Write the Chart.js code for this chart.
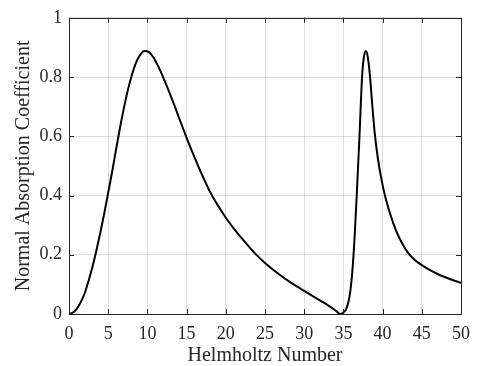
<!DOCTYPE html>
<html>
<head>
<meta charset="utf-8">
<script src="https://cdn.jsdelivr.net/npm/chart.js@4/dist/chart.umd.min.js"></script>
<style>
    html, body { margin: 0; padding: 0; background: #fff; }
    #wrap { width: 479px; height: 366px; }
</style>
</head>
<body>
<div id="wrap"><canvas id="myChart"></canvas></div>
<script>
// Helmholtz number (x) and absorption coefficient (y)
const helmholtz = [0, 0.5, 1, 1.5, 2, 2.5, 3, 3.5, 4, 4.5, 5, 5.5, 6, 6.5, 7, 7.5, 8, 8.5, 9, 9.6,
    10.2, 10.8, 11.4, 12, 13, 14, 15, 16, 17, 18, 19, 20, 21, 22, 23, 24, 25, 26, 27, 28, 29, 30,
    31, 32, 33, 34, 34.6, 35, 35.3, 35.6, 35.9, 36.2, 36.45, 36.7, 37.05, 37.38, 37.6, 37.85,
    38.1, 38.4, 38.7, 39, 39.4, 39.8, 40.3, 41, 41.7, 42.4, 43.2, 44, 45, 46, 47, 48, 49, 50];
const absorption = [0, 0.005, 0.018, 0.04, 0.07, 0.112, 0.16, 0.215, 0.275, 0.34, 0.41, 0.48, 0.555, 0.628, 0.695, 0.755, 0.805, 0.845, 0.872, 0.888,
    0.884, 0.865, 0.835, 0.8, 0.735, 0.665, 0.595, 0.53, 0.468, 0.412, 0.366, 0.325, 0.289, 0.257, 0.226, 0.197, 0.172, 0.15, 0.13, 0.111, 0.094, 0.078,
    0.062, 0.046, 0.03, 0.012, 0, 0.005, 0.014, 0.036, 0.08, 0.165, 0.27, 0.4, 0.6, 0.8, 0.865, 0.888,
    0.87, 0.8, 0.7, 0.61, 0.525, 0.462, 0.4, 0.335, 0.282, 0.243, 0.208, 0.185, 0.165, 0.149, 0.135, 0.124, 0.114, 0.105];

const xTicks = [0, 5, 10, 15, 20, 25, 30, 35, 40, 45, 50];
const yTicks = [0, 0.2, 0.4, 0.6, 0.8, 1];
const yTickLabels = ['0', '0.2', '0.4', '0.6', '0.8', '1'];

const axisColor = '#262626';
const gridColor = 'rgba(38,38,38,0.15)';
const serif = '"Liberation Serif", "Times New Roman", serif';

const points = helmholtz.map((x, i) => ({x: x, y: absorption[i]}));

// box around the plot with MATLAB-like inward ticks on all four sides
const boxPlugin = {
    id: 'box',
    afterDatasetsDraw(chart) {
        const {ctx, chartArea: a, scales} = chart;
        const len = 5;
        ctx.save();
        ctx.strokeStyle = axisColor;
        ctx.lineWidth = 1;
        ctx.beginPath();
        for (let v of xTicks) {
            const px = Math.round(scales.x.getPixelForValue(v)) + 0.5;
            ctx.moveTo(px, a.bottom); ctx.lineTo(px, a.bottom - len);
            ctx.moveTo(px, a.top); ctx.lineTo(px, a.top + len);
        }
        for (let v of yTicks) {
            const py = Math.round(scales.y.getPixelForValue(v)) + 0.5;
            ctx.moveTo(a.left, py); ctx.lineTo(a.left + len, py);
            ctx.moveTo(a.right, py); ctx.lineTo(a.right - len, py);
        }
        ctx.stroke();
        ctx.strokeRect(Math.round(a.left) + 0.5, Math.round(a.top) + 0.5,
            Math.round(a.right - a.left), Math.round(a.bottom - a.top));
        ctx.restore();
    }
};

const ctx = document.getElementById('myChart').getContext('2d');
const chart = new Chart(ctx, {
    type: 'line',
    data: {
        datasets: [{
            data: points,
            borderColor: '#000',
            borderWidth: 2,
            pointRadius: 0,
            fill: false,
            cubicInterpolationMode: 'monotone'
        }]
    },
    options: {
        responsive: true,
        maintainAspectRatio: false,
        animation: false,
        layout: { padding: { left: 0, top: 14, right: 16, bottom: 0 } },
        plugins: {
            legend: { display: false },
            tooltip: { enabled: false }
        },
        scales: {
            x: {
                type: 'linear',
                min: 0,
                max: 50,
                afterBuildTicks: s => { s.ticks = xTicks.map(v => ({value: v})); },
                afterFit: s => { s.height = 52; },
                grid: { color: gridColor, drawTicks: false },
                border: { display: false },
                ticks: {
                    color: axisColor,
                    padding: 9,
                    maxRotation: 0,
                    font: { family: serif, size: 18 }
                },
                title: {
                    display: true,
                    text: 'Helmholtz Number',
                    color: axisColor,
                    padding: { top: 0, bottom: -2 },
                    font: { family: serif, size: 20 }
                }
            },
            y: {
                type: 'linear',
                min: 0,
                max: 1,
                afterBuildTicks: s => { s.ticks = yTicks.map(v => ({value: v})); },
                afterFit: s => { s.width = 69; },
                grid: { color: gridColor, drawTicks: false },
                border: { display: false },
                ticks: {
                    color: axisColor,
                    padding: 7,
                    font: { family: serif, size: 18 },
                    callback: (v) => yTickLabels[yTicks.indexOf(v)]
                },
                title: {
                    display: true,
                    text: 'Normal Absorption Coefficient',
                    color: axisColor,
                    padding: { top: 12, bottom: 0 },
                    font: { family: serif, size: 20 }
                }
            }
        }
    },
    plugins: [boxPlugin]
});
</script>
</body>
</html>
